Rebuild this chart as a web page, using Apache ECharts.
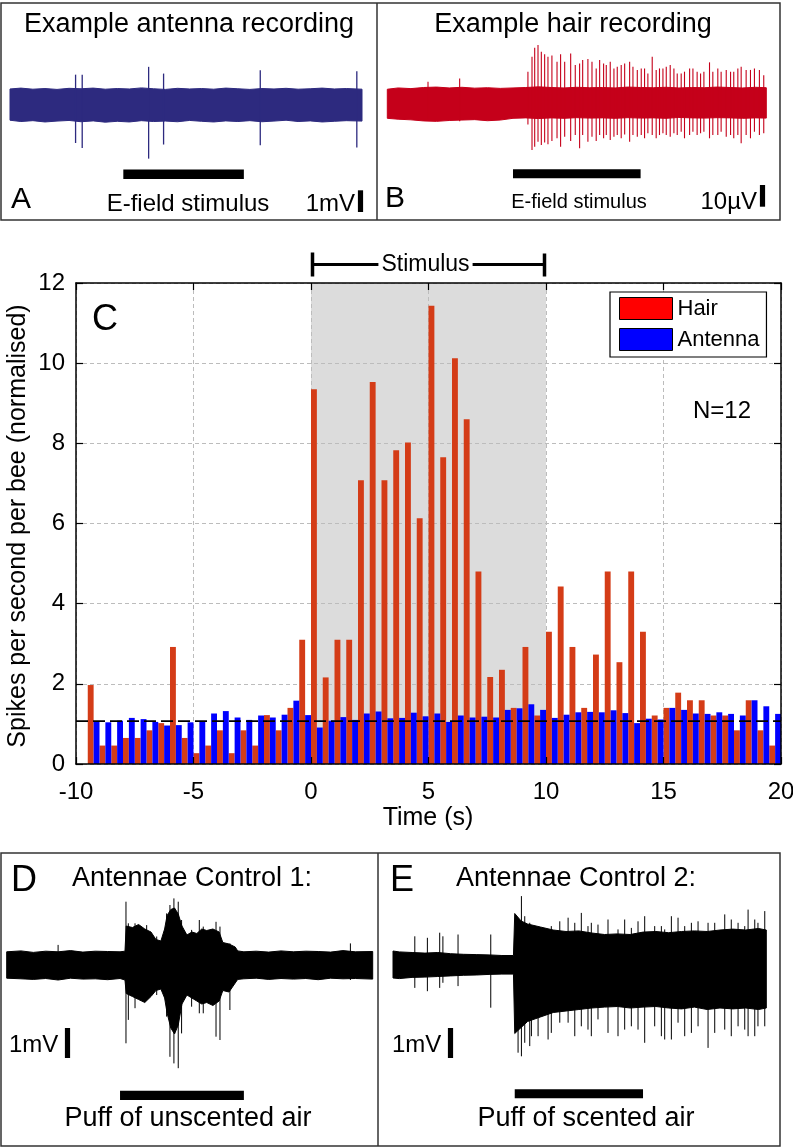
<!DOCTYPE html>
<html><head><meta charset="utf-8">
<script src="https://cdn.jsdelivr.net/npm/echarts@6/dist/echarts.min.js"></script>
<style>html,body{margin:0;padding:0;background:#fff}#c{width:793px;height:1148px}</style>
</head><body><div id="c"></div><script>
const FONT = "'Liberation Sans', Arial, Helvetica, sans-serif";

// ---------- Panel C : spikes per second per bee (normalised), 0.5 s bins ----------
const binCenters = [-9.25,-8.75,-8.25,-7.75,-7.25,-6.75,-6.25,-5.75,-5.25,-4.75,-4.25,-3.75,-3.25,-2.75,-2.25,-1.75,-1.25,-0.75,-0.25,
  0.25,0.75,1.25,1.75,2.25,2.75,3.25,3.75,4.25,4.75,5.25,5.75,6.25,6.75,7.25,7.75,8.25,8.75,9.25,9.75,
  10.25,10.75,11.25,11.75,12.25,12.75,13.25,13.75,14.25,14.75,15.25,15.75,16.25,16.75,17.25,17.75,18.25,18.75,19.25,19.75];
const hairRate = [1.97,0.46,0.46,0.65,0.65,0.84,1.02,2.92,0.65,0.27,0.46,0.84,0.27,0.84,0.46,1.22,0.84,1.40,3.10,
  9.35,2.16,3.10,3.10,7.08,9.53,7.08,7.83,8.02,6.13,11.43,7.65,10.12,8.60,4.80,2.17,2.35,1.40,2.92,1.21,
  3.30,4.43,2.92,1.40,2.73,4.80,2.54,4.80,3.30,1.21,1.40,1.78,1.59,1.59,1.21,1.21,0.84,1.59,0.84,0.46];
const antennaRate = [1.06,1.04,1.08,1.15,1.12,1.05,0.96,0.97,1.04,1.06,1.26,1.32,1.16,1.10,1.21,1.16,1.23,1.58,1.22,
  0.91,1.08,1.17,1.10,1.26,1.31,1.14,1.15,1.28,1.19,1.26,1.05,1.21,1.16,1.18,1.16,1.35,1.39,1.49,1.35,
  1.15,1.23,1.29,1.30,1.29,1.34,1.27,1.02,1.13,1.11,1.40,1.35,1.26,1.25,1.29,1.25,1.21,1.59,1.44,1.25];
const baselineRate = 1.07;
const stimulusWindow = [0, 10];
const cXRange = [-10, 20];
const cYRange = [0, 12];
const cXInterval = 5;
const cYInterval = 2;
const seriesNames = ['Hair', 'Antenna'];

// ---------- Panel A : example antenna recording (mV, time s) ----------
const aEnvT  = [-9.4,-8.5,-7.5,-6.5,-5.5,-4.5,-3.5,-2.5,-1.5,-0.5,0.5,1.5,2.5,3.5,4.5,5.5,6.5,7.5,8.5,9.5,10.5,11.5,12.5,13.5,14.5,15.5,16.5,17.5,18.5,19.8];
const aEnvUp = [0.72,0.76,0.71,0.74,0.70,0.75,0.73,0.76,0.71,0.74,0.72,0.77,0.73,0.70,0.75,0.72,0.74,0.71,0.76,0.73,0.70,0.74,0.72,0.75,0.71,0.73,0.76,0.72,0.74,0.71];
const aEnvLo = [-0.72,-0.78,-0.74,-0.80,-0.76,-0.73,-0.79,-0.75,-0.81,-0.77,-0.80,-0.74,-0.78,-0.76,-0.79,-0.73,-0.77,-0.80,-0.75,-0.78,-0.74,-0.79,-0.76,-0.72,-0.78,-0.75,-0.80,-0.77,-0.74,-0.76];
const aSpikeT  = [-3.96,-3.41,2.10,3.34,11.36,19.37];
const aSpikeUp = [1.38,1.38,1.74,1.43,1.58,1.54];
const aSpikeLo = [-1.77,-2.00,-2.49,-1.84,-1.87,-1.98];
const aScale = 1; // mV

// ---------- Panel B : example hair recording (µV, time s) ----------
const bEnvT  = [-9.85,-9,-8,-7,-6,-5,-4,-3,-2,-1,0,1,2,3,4,5,6,7,8,9,10,11,12,13,14,15,16,17,18,19,19.85];
const bEnvUp = [6.2,6.8,6.5,7.0,7.2,6.8,7.1,6.7,6.9,6.6,6.8,7.0,7.3,7.0,6.8,7.1,6.9,7.0,6.8,7.2,7.0,6.9,7.1,6.8,7.0,6.9,7.2,7.0,6.8,7.1,6.9];
const bEnvLo = [-7.2,-7.6,-7.9,-8.4,-8.6,-8.2,-8.0,-7.8,-8.3,-8.0,-7.2,-7.0,-7.3,-7.0,-7.2,-6.9,-7.1,-7.0,-7.2,-6.9,-7.1,-7.0,-7.2,-6.8,-7.0,-7.1,-6.9,-7.0,-7.2,-7.0,-7.1];
const bSpikeT = [-6.66,-4.18,1.17,1.49,1.70,1.96,2.22,2.48,2.74,3.05,3.45,3.73,4.05,4.52,4.88,5.22,5.46,5.87,6.19,6.52,6.79,7.10,7.31,7.62,7.91,8.17,8.48,8.75,9.14,9.40,9.74,
  10.05,10.31,10.57,10.91,11.22,11.48,11.75,12.01,12.32,12.61,12.87,13.18,13.44,13.84,14.10,14.43,14.70,14.96,15.40,15.66,16.05,16.31,16.71,17.05,17.30,17.62,17.88,18.27,18.61,18.92,19.31,19.65];
const bSpikeUp = [9.7,11.2,14.3,21.2,25.3,26.6,23.5,22.3,21.2,21.7,18.9,22.3,18.9,22.7,17.4,18.1,19.7,20.1,18.9,15.8,19.7,18.1,17.4,18.9,15.8,16.6,17.4,18.1,18.9,16.6,15.1,
  15.8,15.8,13.5,21.2,15.1,15.8,15.8,16.6,17.4,15.8,13.5,13.5,14.3,15.8,15.8,14.3,13.5,14.3,18.6,14.3,15.8,14.3,15.1,14.3,14.3,15.8,16.6,15.1,15.1,15.8,15.1,12.7];
const bSpikeLo = [-7.5,-8.5,-10.0,-21.8,-20.3,-18.0,-19.5,-18.3,-19.2,-17.7,-16.4,-20.3,-15.7,-17.7,-14.9,-21.0,-14.9,-18.0,-15.7,-17.7,-14.9,-16.4,-14.9,-17.2,-15.7,-14.9,-16.4,-14.6,-18.0,-14.9,-15.7,
  -14.9,-16.4,-14.1,-14.9,-16.4,-14.9,-14.1,-14.9,-15.7,-14.1,-14.9,-13.4,-16.4,-14.9,-13.4,-14.9,-14.1,-13.4,-16.4,-14.9,-14.9,-13.4,-15.7,-14.9,-16.4,-14.9,-18.7,-14.9,-16.4,-13.4,-14.9,-14.1];
const bScale = 10; // µV

// ---------- Panel D : antennae control 1, unscented air (mV, time s) ----------
const dEnvT  = [-9.15,-8,-7,-6,-5,-4,-3,-2,-1,0,0.4,0.5,1.0,1.5,2.0,2.5,2.9,3.3,3.6,3.8,4.1,4.4,4.7,5.0,5.4,5.8,6.2,6.6,7.0,7.5,8.0,8.3,8.8,9.3,9.5,10,11,12,13,14,15,16,17,18,19,20.4];
const dEnvUp = [0.44,0.47,0.42,0.46,0.44,0.48,0.43,0.46,0.45,0.44,0.46,1.30,1.25,1.35,1.20,1.10,0.85,0.80,1.20,1.65,1.85,1.90,1.70,1.30,1.00,1.10,1.05,1.20,1.15,1.20,1.10,0.75,0.70,0.60,0.47,0.44,0.46,0.43,0.47,0.44,0.46,0.45,0.43,0.48,0.44,0.45];
const dEnvLo = [-0.44,-0.46,-0.48,-0.45,-0.50,-0.44,-0.47,-0.46,-0.49,-0.45,-0.50,-0.95,-1.05,-1.15,-1.25,-1.05,-0.85,-0.80,-1.10,-1.60,-2.10,-2.30,-2.00,-1.30,-1.00,-1.10,-1.20,-1.30,-1.25,-1.35,-1.20,-0.85,-0.90,-0.60,-0.48,-0.46,-0.44,-0.48,-0.45,-0.47,-0.45,-0.49,-0.44,-0.46,-0.45,-0.47];
const dSpikeT  = [-5.0,0.48,0.67,1.21,2.15,2.96,3.76,4.03,4.35,4.70,4.97,5.78,6.40,6.72,7.75,8.07,8.87,18.6];
const dSpikeUp = [0.67,2.11,1.39,1.39,1.33,0.95,1.72,2.00,2.22,2.11,1.50,1.17,1.50,1.28,1.44,1.28,0.72,0.72];
const dSpikeLo = [-0.50,-2.61,-1.83,-1.44,-1.17,-1.00,-1.72,-3.06,-3.28,-3.44,-2.28,-1.39,-1.61,-1.61,-2.39,-2.50,-1.50,-0.50];
const dScale = 1; // mV

// ---------- Panel E : antennae control 2, scented air (mV, time s) ----------
const eEnvT  = [-9.49,-9,-8,-7,-6,-5,-4,-3,-2,-1,-0.1,0,0.5,1,2,3,4,5,6,7,8,9,10,11,12,13,14,15,16,17,18,19,19.61];
const eEnvUp = [0.45,0.42,0.40,0.38,0.40,0.36,0.34,0.33,0.32,0.30,0.30,1.70,1.45,1.35,1.25,1.15,1.10,1.12,1.05,1.00,1.02,1.00,1.08,1.10,1.06,1.10,1.12,1.10,1.15,1.18,1.15,1.20,1.15];
const eEnvLo = [-0.45,-0.47,-0.43,-0.42,-0.40,-0.38,-0.36,-0.35,-0.33,-0.32,-0.32,-2.30,-2.10,-1.90,-1.75,-1.60,-1.55,-1.50,-1.45,-1.42,-1.40,-1.45,-1.42,-1.40,-1.45,-1.48,-1.42,-1.50,-1.45,-1.48,-1.45,-1.50,-1.45];
const eSpikeT  = [-7.79,-6.81,-5.85,-5.6,-4.42,-1.87,0.26,0.52,0.78,1.17,1.30,1.82,2.6,2.85,3.51,4.16,4.68,5.19,5.71,5.97,6.49,7.27,8.05,8.57,9.09,9.61,
  10.13,10.91,11.43,11.69,12.21,12.73,13.25,13.77,14.29,15.07,15.59,16.37,16.88,17.41,17.93,18.19,18.71,18.96,19.49];
const eSpikeUp = [0.94,0.89,1.06,0.94,1.00,1.00,1.50,2.28,1.61,1.39,1.28,1.17,1.17,1.28,1.44,1.56,1.39,1.72,1.28,1.39,1.33,1.50,1.17,1.50,1.22,1.44,
  1.61,1.28,1.28,1.17,1.61,1.56,1.28,1.39,1.44,1.39,1.39,1.67,1.50,1.39,1.28,1.83,1.50,1.39,1.78];
const eSpikeLo = [-0.78,-0.89,-0.78,-0.61,-0.72,-1.44,-2.94,-3.06,-2.61,-2.72,-2.39,-2.39,-2.50,-2.28,-1.94,-1.94,-2.39,-2.06,-2.17,-2.39,-1.83,-2.28,-2.39,-2.17,-2.06,-2.17,
  -2.61,-2.06,-2.39,-2.50,-2.50,-1.94,-2.39,-2.28,-2.06,-2.78,-2.28,-2.17,-2.39,-2.06,-2.17,-2.39,-2.39,-2.06,-2.06];
const eScale = 1; // mV

// ---------- layout (pixels) ----------
const LC = {left: 76, top: 283, right: 781, bottom: 764};
const P = {
  A: {left: 10,    right: 362,   top: 0,   bottom: 222,  cy: 104.6, ppu: 21.7, stimY: 174.3, stimH: 9.5, scaleX: 360.5, scaleBottom: 212,  color: '#2d2a7f', lw: 1.3},
  B: {left: 387.3, right: 766.3, top: 0,   bottom: 222,  cy: 102.7, ppu: 2.17, stimY: 173.8, stimH: 9,   scaleX: 762.5, scaleBottom: 206.7, color: '#c5001a', lw: 1.1},
  D: {left: 6.7,   right: 372.7, top: 853, bottom: 1146, cy: 965,   ppu: 30,   stimY: 1095.3, stimH: 9.3, scaleX: 67.5, scaleBottom: 1058, color: '#000000', lw: 1},
  E: {left: 393,   right: 766.3, top: 853, bottom: 1146, cy: 964.5, ppu: 30,   stimY: 1093.8, stimH: 9,   scaleX: 450.5, scaleBottom: 1058, color: '#000000', lw: 1}
};
const REC = [
  {p: P.A, T: aEnvT, U: aEnvUp, Lo: aEnvLo, ST: aSpikeT, SU: aSpikeUp, SL: aSpikeLo, scale: aScale},
  {p: P.B, T: bEnvT, U: bEnvUp, Lo: bEnvLo, ST: bSpikeT, SU: bSpikeUp, SL: bSpikeLo, scale: bScale},
  {p: P.D, T: dEnvT, U: dEnvUp, Lo: dEnvLo, ST: dSpikeT, SU: dSpikeUp, SL: dSpikeLo, scale: dScale},
  {p: P.E, T: eEnvT, U: eEnvUp, Lo: eEnvLo, ST: eSpikeT, SU: eSpikeUp, SL: eSpikeLo, scale: eScale}
];

const grids = [{left: LC.left, top: LC.top, width: LC.right - LC.left, height: LC.bottom - LC.top, outerBoundsMode: 'none'}];
const axLine = {show: true, onZero: false, lineStyle: {color: '#000', width: 1.5}};
const axTick = {show: true, inside: true, length: 7, lineStyle: {color: '#000', width: 1.2}};
const split = {show: true, lineStyle: {color: '#bcbcbc', width: 1, type: [4, 3]}};
const xAxes = [
  {gridIndex: 0, type: 'value', min: cXRange[0], max: cXRange[1], interval: cXInterval, position: 'bottom', z: 5,
   axisLine: axLine, axisTick: axTick, splitLine: {show: false},
   axisLabel: {color: '#000', fontSize: 24, fontFamily: FONT, margin: 16}},
  {gridIndex: 0, type: 'value', min: cXRange[0], max: cXRange[1], interval: cXInterval, position: 'top', z: 5,
   axisLine: axLine, axisTick: axTick, splitLine: {show: false}, axisLabel: {show: false}},
  {gridIndex: 0, type: 'value', min: cXRange[0], max: cXRange[1], interval: cXInterval, position: 'bottom', z: 1.5,
   axisLine: {show: false}, axisTick: {show: false}, axisLabel: {show: false}, splitLine: split}
];
const yAxes = [
  {gridIndex: 0, type: 'value', min: cYRange[0], max: cYRange[1], interval: cYInterval, position: 'left', z: 5,
   axisLine: axLine, axisTick: axTick, splitLine: {show: false},
   axisLabel: {color: '#000', fontSize: 24, fontFamily: FONT, margin: 11}},
  {gridIndex: 0, type: 'value', min: cYRange[0], max: cYRange[1], interval: cYInterval, position: 'right', z: 5,
   axisLine: axLine, axisTick: axTick, splitLine: {show: false}, axisLabel: {show: false}},
  {gridIndex: 0, type: 'value', min: cYRange[0], max: cYRange[1], interval: cYInterval, position: 'left', z: 1.5,
   axisLine: {show: false}, axisTick: {show: false}, axisLabel: {show: false}, splitLine: split}
];

const series = [];
// grey stimulus window
series.push({type: 'custom', name: 'window', xAxisIndex: 0, yAxisIndex: 0, z: 1, silent: true,
  data: [[stimulusWindow[0], stimulusWindow[1]]],
  renderItem: (pr, api) => {
    const a = api.coord([api.value(0), cYRange[1]]);
    const b = api.coord([api.value(1), cYRange[0]]);
    return {type: 'rect', shape: {x: a[0], y: a[1], width: b[0] - a[0], height: b[1] - a[1]}, style: {fill: '#dcdcdc'}};
  }});
const bw = (LC.right - LC.left) / (cXRange[1] - cXRange[0]) * 0.25;
series.push({type: 'bar', name: seriesNames[0], xAxisIndex: 0, yAxisIndex: 0, z: 2, barWidth: bw, barGap: '0%',
  data: binCenters.map((t, i) => [t, hairRate[i]]), itemStyle: {color: '#d43c17'}});
series.push({type: 'bar', name: seriesNames[1], xAxisIndex: 0, yAxisIndex: 0, z: 2, barWidth: bw, barGap: '0%',
  data: binCenters.map((t, i) => [t, antennaRate[i]]), itemStyle: {color: '#0000ff'}});
series.push({type: 'line', name: 'baseline', xAxisIndex: 0, yAxisIndex: 0, z: 3, symbol: 'none', silent: true,
  data: [[cXRange[0], baselineRate], [cXRange[1], baselineRate]],
  lineStyle: {color: '#000', width: 1.6, type: [12, 5]}});
// stimulus bracket above panel C
series.push({type: 'custom', name: 'bracket', xAxisIndex: 0, yAxisIndex: 0, z: 3, silent: true,
  data: [[stimulusWindow[0], stimulusWindow[1]]],
  renderItem: (pr, api) => {
    const x0 = api.coord([api.value(0), cYRange[1]])[0];
    const x1 = api.coord([api.value(1), cYRange[1]])[0];
    const yb = LC.top - 18.5;
    return {type: 'group', children: [
      {type: 'line', shape: {x1: x0, y1: yb, x2: x1, y2: yb}, style: {stroke: '#000', lineWidth: 3.2}},
      {type: 'line', shape: {x1: x0 + 1.5, y1: yb - 12, x2: x0 + 1.5, y2: yb + 12}, style: {stroke: '#000', lineWidth: 3.5}},
      {type: 'line', shape: {x1: x1 - 1.5, y1: yb - 11, x2: x1 - 1.5, y2: yb + 12}, style: {stroke: '#000', lineWidth: 3.5}},
      {type: 'text', x: (x0 + x1) / 2 - 3, y: yb, style: {text: 'Stimulus', fontSize: 23, fontFamily: FONT, fill: '#000',
        align: 'center', verticalAlign: 'middle', backgroundColor: '#fff', padding: [0, 3]}}
    ]};
  }});

// recordings
REC.forEach((r, k) => {
  const p = r.p, gi = k + 1, ai = k + 3;
  grids.push({left: p.left, top: p.top, width: p.right - p.left, height: p.bottom - p.top, outerBoundsMode: 'none'});
  xAxes.push({gridIndex: gi, type: 'value', show: false, min: r.T[0], max: r.T[r.T.length - 1]});
  yAxes.push({gridIndex: gi, type: 'value', show: false, max: (p.cy - p.top) / p.ppu, min: -(p.bottom - p.cy) / p.ppu});
  series.push({type: 'custom', name: 'band' + k, xAxisIndex: ai, yAxisIndex: ai, z: 2, silent: true,
    data: [[r.T[0], r.U[0], r.Lo[0]]],
    renderItem: (pr, api) => {
      const pts = [];
      for (let i = 0; i < r.T.length; i++) pts.push(api.coord([r.T[i], r.U[i]]));
      for (let i = r.T.length - 1; i >= 0; i--) pts.push(api.coord([r.T[i], r.Lo[i]]));
      return {type: 'polygon', shape: {points: pts}, style: {fill: p.color, stroke: p.color, lineWidth: 1}};
    }});
  series.push({type: 'custom', name: 'spikes' + k, xAxisIndex: ai, yAxisIndex: ai, z: 3, silent: true,
    data: r.ST.map((t, i) => [t, r.SU[i], r.SL[i]]),
    renderItem: (pr, api) => {
      const a = api.coord([api.value(0), api.value(1)]);
      const b = api.coord([api.value(0), api.value(2)]);
      return {type: 'line', shape: {x1: a[0], y1: a[1], x2: b[0], y2: b[1]}, style: {stroke: p.color, lineWidth: p.lw}};
    }});
  series.push({type: 'custom', name: 'stimbar' + k, xAxisIndex: ai, yAxisIndex: ai, z: 3, silent: true,
    data: [[stimulusWindow[0], stimulusWindow[1]]],
    renderItem: (pr, api) => {
      const x0 = api.coord([api.value(0), 0])[0], x1 = api.coord([api.value(1), 0])[0];
      return {type: 'rect', shape: {x: x0, y: p.stimY - p.stimH / 2, width: x1 - x0, height: p.stimH}, style: {fill: '#000'}};
    }});
  series.push({type: 'custom', name: 'scalebar' + k, xAxisIndex: ai, yAxisIndex: ai, z: 3, silent: true,
    data: [[0, r.scale]],
    renderItem: (pr, api) => {
      const h = api.size([0, api.value(1)])[1];
      return {type: 'rect', shape: {x: p.scaleX - 2.6, y: p.scaleBottom - h, width: 5.2, height: h}, style: {fill: '#000'}};
    }});
});

function txt(text, x, y, size, align, extra) {
  return Object.assign({type: 'text', x: x, y: y, z: 10, silent: true,
    style: {text: text, fontSize: size, fontFamily: FONT, fill: '#000', align: align || 'center', verticalAlign: 'middle'}}, extra || {});
}
const graphics = [
  {type: 'rect', shape: {x: 1, y: 3, width: 779, height: 217}, style: {fill: 'none', stroke: '#333', lineWidth: 1.5}},
  {type: 'line', shape: {x1: 377, y1: 3, x2: 377, y2: 220}, style: {stroke: '#333', lineWidth: 1.5}},
  {type: 'rect', shape: {x: 1, y: 853, width: 779, height: 293}, style: {fill: 'none', stroke: '#333', lineWidth: 1.5}},
  {type: 'line', shape: {x1: 378, y1: 853, x2: 378, y2: 1146}, style: {stroke: '#333', lineWidth: 1.5}},
  txt('Example antenna recording', 189, 25, 27),
  txt('Example hair recording', 573, 25, 27),
  txt('A', 11, 200, 30, 'left'),
  txt('B', 385, 199, 30, 'left'),
  txt('E-field stimulus', 188, 204, 24),
  txt('1mV', 355, 204, 24, 'right'),
  txt('E-field stimulus', 579, 202, 20),
  txt('10µV', 757, 202, 24, 'right'),
  txt('C', 92, 320, 36, 'left'),
  txt('N=12', 693, 411, 24, 'left'),
  txt('Spikes per second per bee (normalised)', 18, 526, 25, 'center', {rotation: Math.PI / 2}),
  txt('Time (s)', 428, 818, 25),
  txt('D', 11, 881, 36, 'left'),
  txt('Antennae Control 1:', 192, 879, 27),
  txt('1mV', 9, 1045, 24, 'left'),
  txt('Puff of unscented air', 188, 1119, 27),
  txt('E', 390, 881, 36, 'left'),
  txt('Antennae Control 2:', 576, 879, 27),
  txt('1mV', 392, 1045, 24, 'left'),
  txt('Puff of scented air', 586, 1119, 27)
];

const chart = echarts.init(document.getElementById('c'), null, {renderer: 'canvas'});
chart.setOption({
  animation: false,
  backgroundColor: '#fff',
  grid: grids,
  xAxis: xAxes,
  yAxis: yAxes,
  legend: {left: 610, top: 292, orient: 'vertical', itemWidth: 53, itemHeight: 22, itemGap: 8,
    padding: [5, 7, 6, 9], borderColor: '#000', borderWidth: 1.2, backgroundColor: '#fff', selectedMode: false, z: 10,
    textStyle: {fontSize: 22, fontFamily: FONT, color: '#000', lineHeight: 22},
    data: [
      {name: seriesNames[0], icon: 'rect', itemStyle: {color: '#ff0000', borderColor: '#000', borderWidth: 1}},
      {name: seriesNames[1], icon: 'rect', itemStyle: {color: '#0000ff', borderColor: '#000', borderWidth: 1}}
    ]},
  tooltip: {show: false},
  series: series,
  graphic: graphics
});
</script></body></html>
